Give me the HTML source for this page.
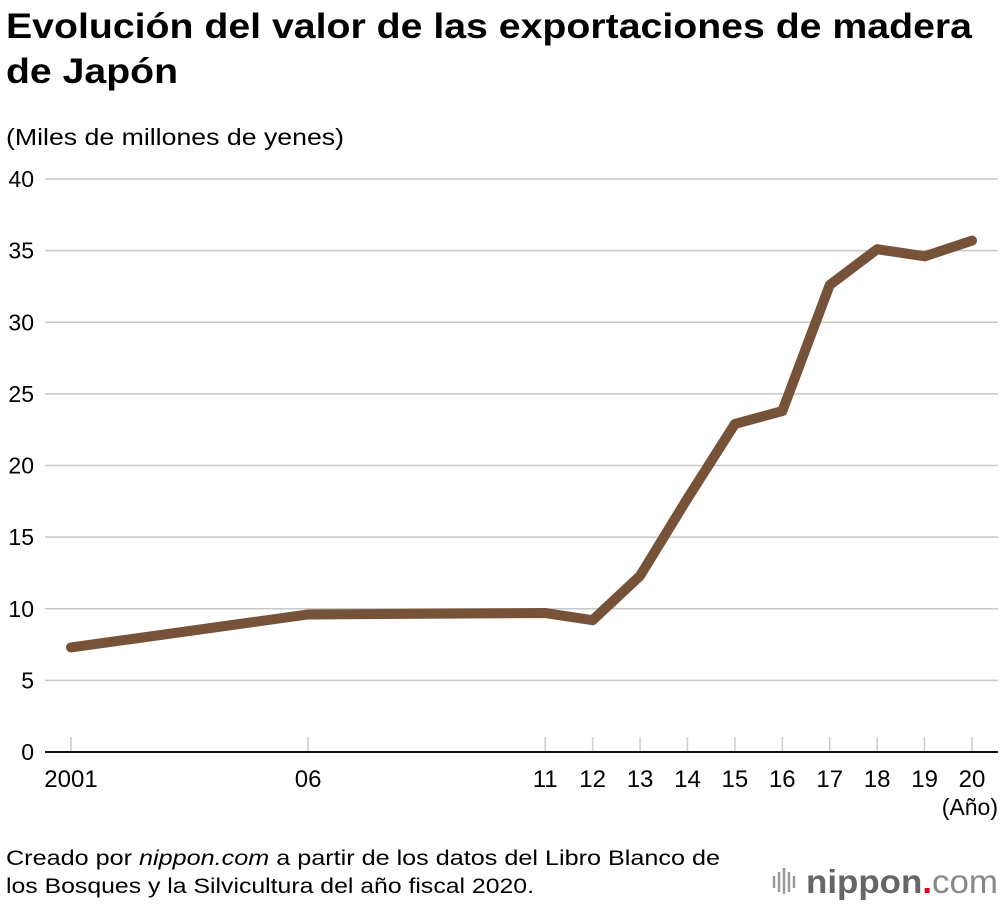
<!DOCTYPE html>
<html><head><meta charset="utf-8">
<style>
body{margin:0;background:#fff;width:1000px;height:902px;overflow:hidden;font-family:"Liberation Sans",sans-serif;color:#000}
</style></head>
<body>
<svg width="1000" height="902" xmlns="http://www.w3.org/2000/svg" font-family="Liberation Sans, sans-serif">
<text x="6" y="38" font-size="35" font-weight="bold" textLength="966" lengthAdjust="spacingAndGlyphs">Evolución del valor de las exportaciones de madera</text>
<text x="6" y="83" font-size="35" font-weight="bold" textLength="172" lengthAdjust="spacingAndGlyphs">de Japón</text>
<text x="6" y="145" font-size="23" textLength="338" lengthAdjust="spacingAndGlyphs">(Miles de millones de yenes)</text>
<g id="grid"></g><g id="yticks"></g><g id="xticks"></g>
<path id="line" fill="none" stroke="#765238" stroke-width="10" stroke-linejoin="round" stroke-linecap="round"/>
<text x="998" y="815" font-size="23" text-anchor="end">(Año)</text>
<text x="6" y="865" font-size="21" textLength="714" lengthAdjust="spacingAndGlyphs">Creado por <tspan font-style="italic">nippon.com</tspan> a partir de los datos del Libro Blanco de</text>
<text x="6" y="893" font-size="21" textLength="528" lengthAdjust="spacingAndGlyphs">los Bosques y la Silvicultura del año fiscal 2020.</text>
<g>
<g stroke="#999" stroke-width="2.5"><line x1="774" y1="876" x2="774" y2="888"/><line x1="779" y1="872" x2="779" y2="892"/><line x1="784" y1="868" x2="784" y2="894"/><line x1="789" y1="872" x2="789" y2="892"/><line x1="794" y1="876" x2="794" y2="888"/></g>
<text x="806" y="893" font-size="33" fill="#666" font-weight="bold" textLength="192" lengthAdjust="spacingAndGlyphs">nippon<tspan fill="#e60012">.</tspan><tspan font-weight="normal" fill="#888">com</tspan></text>
</g>
</svg>
<script>
const years=[2001,2006,2011,2012,2013,2014,2015,2016,2017,2018,2019,2020];
const values=[7.3,9.6,9.7,9.2,12.3,17.7,22.9,23.8,32.6,35.1,34.6,35.7];
const tickYears=[2001,2006,2011,2012,2013,2014,2015,2016,2017,2018,2019,2020];
const tickLabels=["2001","06","11","12","13","14","15","16","17","18","19","20"];
const yTicks=[0,5,10,15,20,25,30,35,40];
const NS="http://www.w3.org/2000/svg";
const x=v=>71+(v-2001)*(972-71)/19;
const y=v=>752-v*(752-179)/40;
const grid=document.getElementById('grid'),yt=document.getElementById('yticks'),xt=document.getElementById('xticks');
yTicks.forEach(t=>{
 const l=document.createElementNS(NS,'line');
 l.setAttribute('x1',45);l.setAttribute('x2',998);l.setAttribute('y1',y(t));l.setAttribute('y2',y(t));
 l.setAttribute('stroke',t===0?'#111':'#c8c8c8');l.setAttribute('stroke-width',t===0?2:1.5);
 
 
 grid.appendChild(l);
 const tx=document.createElementNS(NS,'text');
 tx.setAttribute('x',34);tx.setAttribute('y',y(t)+8);tx.setAttribute('font-size',23);tx.setAttribute('text-anchor','end');
 tx.textContent=t;
 
 
 yt.appendChild(tx);
});
tickYears.forEach((yr,i)=>{
 const l=document.createElementNS(NS,'line');
 l.setAttribute('x1',x(yr));l.setAttribute('x2',x(yr));l.setAttribute('y1',737);l.setAttribute('y2',751);
 l.setAttribute('stroke','#ccc');l.setAttribute('stroke-width',1.5);
 
 
 xt.appendChild(l);
 const tx=document.createElementNS(NS,'text');
 tx.setAttribute('x',x(yr));tx.setAttribute('y',787);tx.setAttribute('font-size',24);tx.setAttribute('text-anchor','middle');
 tx.textContent=tickLabels[i];
 
 
 xt.appendChild(tx);
});
document.getElementById('line').setAttribute('d',years.map((yr,i)=>(i?'L':'M')+x(yr)+','+y(values[i])).join(' '));
</script>
</body></html>
